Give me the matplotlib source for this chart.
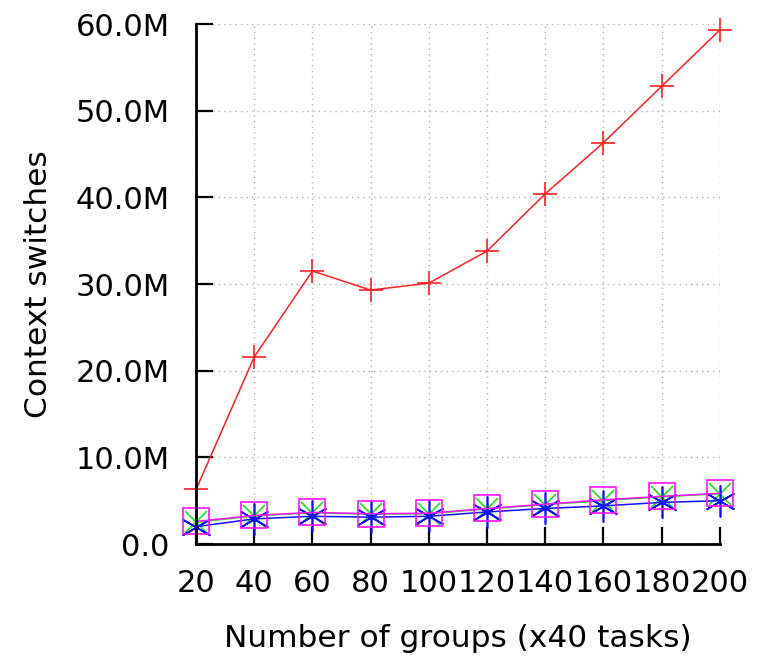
import matplotlib
matplotlib.use("Agg")
import matplotlib.pyplot as plt
from matplotlib.ticker import FuncFormatter

groups = [20, 40, 60, 80, 100, 120, 140, 160, 180, 200]
red_plus = [6.3, 21.6, 31.5, 29.3, 30.1, 33.8, 40.4, 46.3, 52.8, 59.3]
green_x = [2.5, 3.25, 3.6, 3.45, 3.5, 4.05, 4.55, 5.0, 5.45, 5.8]
blue_star = [2.0, 2.9, 3.2, 3.1, 3.2, 3.7, 4.1, 4.4, 4.8, 5.0]
magenta_box = [2.6, 3.3, 3.65, 3.5, 3.55, 4.1, 4.6, 5.1, 5.5, 5.85]

fig = plt.figure(figsize=(7.6, 6.56), dpi=100)
ax = fig.add_axes([0.258, 0.1707, 0.689, 0.7927])

m = 1e6
common = dict(linewidth=1.1, markeredgewidth=1.2, clip_on=False)
ax.plot(groups, [v * m for v in red_plus], color='#ff2020', marker='+', markersize=17, **common)
ax.plot(groups, [v * m for v in green_x], color='#20e020', marker='x', markersize=16, **common)
ax.plot(groups, [v * m for v in blue_star], color='#1010ff', marker=(6, 2, 0), markersize=23, **common)
ax.plot(groups, [v * m for v in magenta_box], color='#ff10ff', marker='s', markersize=19,
        markerfacecolor='none', **common)

ax.set_xlim(20, 200)
ax.set_ylim(0, 60e6)
ax.set_xticks(groups)
ax.set_yticks([i * 10e6 for i in range(7)])
ax.yaxis.set_major_formatter(FuncFormatter(lambda v, p: '0.0' if v == 0 else f'{v / 1e6:.1f}M'))

ax.grid(True, color='#b0b0b0', linestyle=(0, (1, 3)), linewidth=1)
ax.set_axisbelow(True)
ax.spines['top'].set_visible(False)
ax.spines['right'].set_visible(False)
ax.spines['left'].set_linewidth(2)
ax.spines['bottom'].set_linewidth(2)
ax.tick_params(direction='in', length=12, width=1.6, labelsize=22)
ax.tick_params(axis='y', pad=19)
ax.tick_params(axis='x', pad=18)

ax.set_xlabel('Number of groups (x40 tasks)', fontsize=22.5, labelpad=19)
ax.set_ylabel('Context switches', fontsize=22.5, labelpad=16)

fig.savefig('out.png', dpi=100)
